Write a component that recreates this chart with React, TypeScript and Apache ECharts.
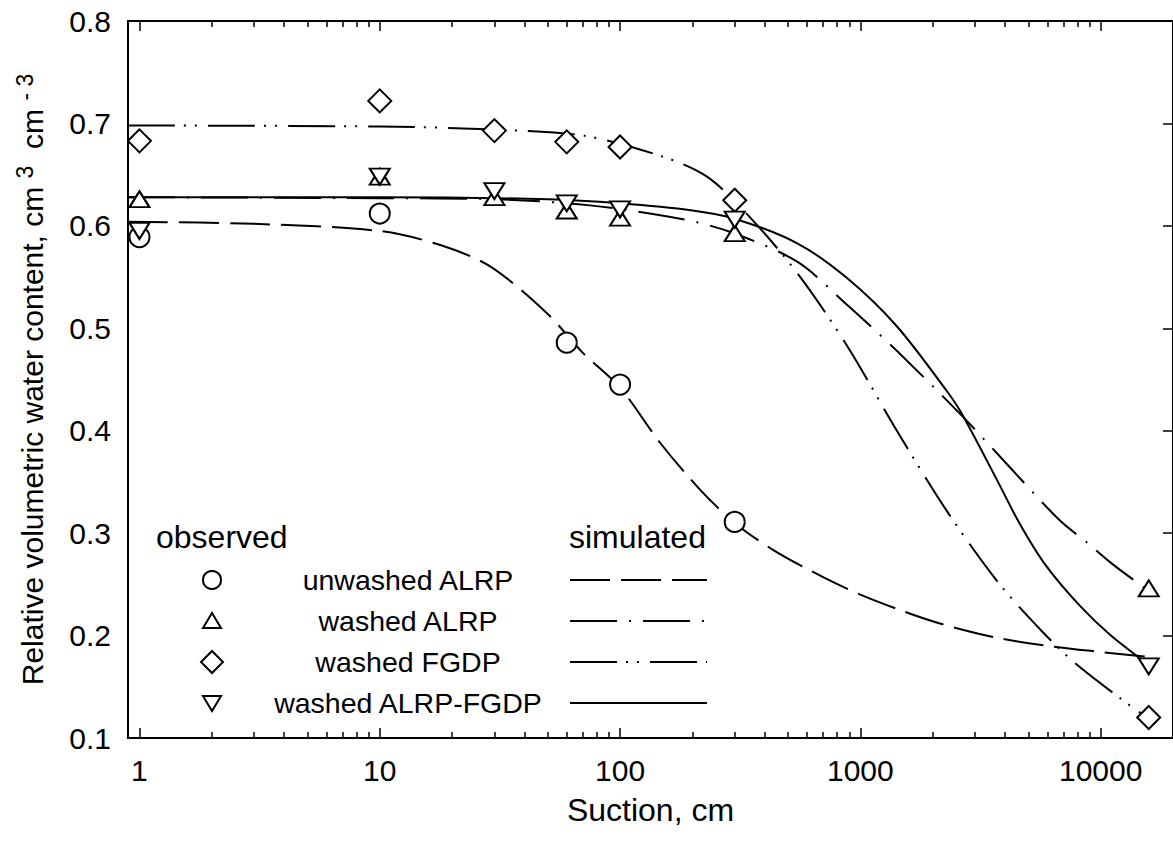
import React, { useEffect, useRef } from "react";
import * as echarts from "echarts";

const FONT = "'Liberation Sans', Arial, Helvetica, sans-serif";

// ---- axis ranges / ticks ----
const X_MIN = 0.896;
const X_MAX = 20000;
const Y_MIN = 0.1;
const Y_MAX = 0.8;
const Y_STEP = 0.1;
const X_MAJOR_TICKS = [1, 10, 100, 1000, 10000];
const X_MINOR_TICKS = [
  2, 3, 4, 5, 6, 7, 8, 9,
  20, 30, 40, 50, 60, 70, 80, 90,
  200, 300, 400, 500, 600, 700, 800, 900,
  2000, 3000, 4000, 5000, 6000, 7000, 8000, 9000,
];

// ---- series names ----
const NAMES = ["unwashed ALRP", "washed ALRP", "washed FGDP", "washed ALRP-FGDP"];

// ---- observed: [suction (cm), relative volumetric water content] ----
const obsUnwashedALRP = [
  [1, 0.589], [10, 0.612], [60, 0.486], [100, 0.445], [300, 0.311],
];
const obsWashedALRP = [
  [1, 0.626], [10, 0.648], [30, 0.628], [60, 0.615], [100, 0.608], [300, 0.593], [15850, 0.246],
];
const obsWashedFGDP = [
  [1, 0.683], [10, 0.722], [30, 0.693], [60, 0.682], [100, 0.677], [300, 0.625], [15850, 0.12],
];
const obsWashedALRPFGDP = [
  [1, 0.595], [10, 0.648], [30, 0.634], [60, 0.622], [100, 0.616], [300, 0.606], [15850, 0.17],
];

// ---- simulated curves ----
const simUnwashedALRP = [
  [0.896, 0.604], [3, 0.602], [10, 0.595], [18, 0.581], [29, 0.56], [50, 0.514], [70, 0.476],
  [100, 0.442], [147, 0.388], [216, 0.342], [300, 0.31], [438, 0.283], [700, 0.257],
  [1000, 0.24], [1500, 0.224], [2200, 0.211], [3675, 0.198], [6000, 0.19], [10000, 0.184], [16000, 0.179],
];
const simWashedALRP = [
  [0.896, 0.628], [10, 0.627], [30, 0.626], [75, 0.62], [178, 0.607], [288, 0.594], [546, 0.565],
  [880, 0.523], [1418, 0.478], [2637, 0.415], [4051, 0.368], [6719, 0.313], [8858, 0.29],
  [11030, 0.271], [15115, 0.247], [16165, 0.242],
];
const simWashedFGDP = [
  [0.896, 0.698], [10, 0.697], [30, 0.694], [71, 0.688], [153, 0.667], [230, 0.648], [336, 0.612],
  [546, 0.554], [880, 0.483], [1419, 0.4], [2285, 0.322], [3742, 0.252], [5657, 0.205],
  [7745, 0.174], [12340, 0.137], [16000, 0.118],
];
const simWashedALRPFGDP = [
  [0.896, 0.628], [10, 0.628], [50, 0.626], [100, 0.622], [200, 0.615], [300, 0.607], [546, 0.583],
  [880, 0.549], [1418, 0.502], [2285, 0.439], [2637, 0.417], [3683, 0.353], [4585, 0.31],
  [5933, 0.268], [8128, 0.23], [11030, 0.2], [15710, 0.172], [16165, 0.17],
];

const OBSERVED = [obsUnwashedALRP, obsWashedALRP, obsWashedFGDP, obsWashedALRPFGDP];
const SIMULATED = [simUnwashedALRP, simWashedALRP, simWashedFGDP, simWashedALRPFGDP];

// ---- styles ----
const DASHES: (number[] | "solid")[] = [[40, 11], [47, 12, 2, 12], [47, 9, 2, 9, 2, 11], "solid"];
const SYMBOLS = ["circle", "triangle", "diamond", "triangle"];
const SYMBOL_SIZES: [number, number][] = [[20, 20], [20, 16], [23, 23], [20, 16]];
const SYMBOL_ROT = [0, 0, 0, 180];

const lg = (pts: number[][]) => pts.map(([s, v]) => [Math.log10(s), v]);

function legendGraphics() {
  const els: any[] = [];
  const txt = (text: string, x: number, y: number, align: string, size: number) => ({
    type: "text",
    x,
    y,
    style: { text, fill: "#000", font: `${size}px ${FONT}`, align, verticalAlign: "middle" },
  });
  els.push(txt("observed", 156, 537, "left", 32));
  els.push(txt("simulated", 569, 537, "left", 32));
  const rows = [580, 621, 662, 703];
  const mx = 212;
  rows.forEach((y, i) => {
    const st = { fill: "#fff", stroke: "#000", lineWidth: 2 };
    if (i === 0) els.push({ type: "circle", shape: { cx: mx, cy: y, r: 9 }, style: st });
    if (i === 1)
      els.push({ type: "polygon", shape: { points: [[mx - 9, y + 7], [mx + 9, y + 7], [mx, y - 8]] }, style: st });
    if (i === 2)
      els.push({ type: "polygon", shape: { points: [[mx, y - 11], [mx + 11, y], [mx, y + 11], [mx - 11, y]] }, style: st });
    if (i === 3)
      els.push({ type: "polygon", shape: { points: [[mx - 9, y - 7], [mx + 9, y - 7], [mx, y + 8]] }, style: st });
    els.push(txt(NAMES[i], 408, y, "center", 28.5));
    const d = DASHES[i];
    els.push({
      type: "line",
      shape: { x1: 570, y1: y, x2: 707, y2: y },
      style: { stroke: "#000", lineWidth: 2, lineDash: d === "solid" ? null : d },
    });
  });
  return els;
}

export default function App() {
  const ref = useRef<HTMLDivElement>(null);
  useEffect(() => {
    if (!ref.current) return;
    const chart = echarts.init(ref.current, undefined, { renderer: "svg" });
    const majorLog = X_MAJOR_TICKS.map((v) => Math.log10(v));
    const minorLog = X_MINOR_TICKS.map((v) => Math.log10(v));
    const black = { color: "#000", width: 2 };
    const baseX = {
      type: "value",
      min: Math.log10(X_MIN),
      max: Math.log10(X_MAX),
      splitLine: { show: false },
    };
    const lineSeries = SIMULATED.map((d, i) => ({
      type: "line",
      name: NAMES[i] + " (simulated)",
      data: lg(d),
      xAxisIndex: 0,
      yAxisIndex: 0,
      showSymbol: false,
      symbol: "none",
      smooth: 0.3,
      silent: true,
      z: 2,
      lineStyle: { color: "#000", width: 2, type: DASHES[i], cap: "butt" },
    }));
    const scatterSeries = OBSERVED.map((d, i) => ({
      type: "scatter",
      name: NAMES[i],
      data: lg(d),
      xAxisIndex: 0,
      yAxisIndex: 0,
      symbol: SYMBOLS[i],
      symbolSize: SYMBOL_SIZES[i],
      symbolRotate: SYMBOL_ROT[i],
      z: 3,
      itemStyle: { color: "#fff", borderColor: "#000", borderWidth: 2, opacity: 1 },
    }));
    chart.setOption({
      animation: false,
      backgroundColor: "#fff",
      grid: { left: 128, top: 21, width: 1049.5, height: 717, containLabel: false },
      xAxis: [
        {
          ...baseX,
          position: "bottom",
          axisLine: { show: true, onZero: false, lineStyle: black },
          axisTick: { show: true, inside: true, length: 10, customValues: majorLog, lineStyle: { color: "#000", width: 1.5 } },
          axisLabel: {
            show: true,
            customValues: majorLog,
            formatter: (v: number) => String(Math.round(Math.pow(10, v))),
            color: "#000",
            fontSize: 30,
            fontFamily: FONT,
            margin: 17,
          },
          name: "Suction, cm",
          nameLocation: "middle",
          nameGap: 56,
          nameTextStyle: { color: "#000", fontSize: 32, fontFamily: FONT },
        },
        {
          ...baseX,
          position: "bottom",
          axisLine: { show: false, onZero: false },
          axisTick: { show: true, inside: true, length: 6, customValues: minorLog, lineStyle: { color: "#000", width: 1.5 } },
          axisLabel: { show: false },
        },
        {
          ...baseX,
          position: "top",
          axisLine: { show: true, onZero: false, lineStyle: black },
          axisTick: { show: true, inside: true, length: 10, customValues: majorLog, lineStyle: { color: "#000", width: 1.5 } },
          axisLabel: { show: false },
        },
        {
          ...baseX,
          position: "top",
          axisLine: { show: false, onZero: false },
          axisTick: { show: true, inside: true, length: 6, customValues: minorLog, lineStyle: { color: "#000", width: 1.5 } },
          axisLabel: { show: false },
        },
      ],
      yAxis: [
        {
          type: "value",
          min: Y_MIN,
          max: Y_MAX,
          interval: Y_STEP,
          position: "left",
          splitLine: { show: false },
          axisLine: { show: true, onZero: false, lineStyle: black },
          axisTick: { show: false },
          axisLabel: {
            formatter: (v: number) => v.toFixed(1),
            color: "#000",
            fontSize: 30,
            fontFamily: FONT,
            margin: 17,
          },
          name: "Relative volumetric water content, cm {sup|3}  cm {sup|- 3}",
          nameLocation: "middle",
          nameRotate: 90,
          nameGap: 76,
          nameTextStyle: {
            color: "#000",
            fontSize: 30,
            fontFamily: FONT,
            rich: {
              sup: { fontSize: 23, fontFamily: FONT, color: "#000", padding: [0, 0, 16, 0] },
            },
          },
        },
        {
          type: "value",
          min: Y_MIN,
          max: Y_MAX,
          interval: Y_STEP,
          position: "right",
          splitLine: { show: false },
          axisLine: { show: true, onZero: false, lineStyle: black },
          axisTick: { show: true, inside: true, length: 10, lineStyle: { color: "#000", width: 1.5 } },
          axisLabel: { show: false },
        },
      ],
      series: [...lineSeries, ...scatterSeries],
      graphic: legendGraphics(),
    });
    return () => chart.dispose();
  }, []);
  return (
    <div
      ref={ref}
      style={{ position: "absolute", left: 0, top: 0, width: 1173, height: 842, background: "#fff" }}
    />
  );
}
